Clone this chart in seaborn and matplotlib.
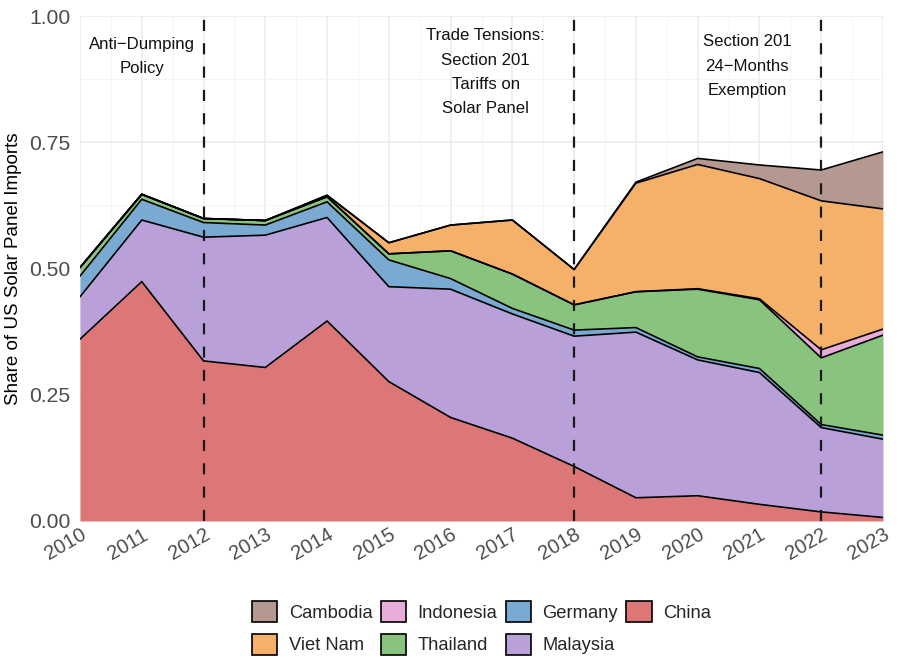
import numpy as np
import pandas as pd
import matplotlib
matplotlib.use("Agg")
import matplotlib.pyplot as plt
from matplotlib.patches import Patch
from matplotlib.ticker import MultipleLocator
import seaborn as sns

years = list(range(2010, 2024))
china     = [0.360, 0.474, 0.317, 0.304, 0.396, 0.276, 0.205, 0.164, 0.108, 0.046, 0.050, 0.033, 0.018, 0.007]
malaysia  = [0.084, 0.122, 0.245, 0.262, 0.205, 0.188, 0.254, 0.246, 0.258, 0.328, 0.269, 0.261, 0.167, 0.155]
germany   = [0.041, 0.041, 0.029, 0.020, 0.031, 0.053, 0.021, 0.011, 0.012, 0.009, 0.006, 0.008, 0.006, 0.008]
thailand  = [0.017, 0.010, 0.008, 0.009, 0.010, 0.012, 0.055, 0.068, 0.050, 0.071, 0.134, 0.136, 0.132, 0.198]
indonesia = [0.0, 0.0, 0.0, 0.0, 0.0, 0.0, 0.0, 0.0, 0.0, 0.0, 0.001, 0.002, 0.016, 0.012]
vietnam   = [0.0, 0.0, 0.0, 0.0, 0.003, 0.022, 0.051, 0.107, 0.070, 0.215, 0.246, 0.238, 0.295, 0.238]
cambodia  = [0.0, 0.0, 0.0, 0.0, 0.0, 0.0, 0.0, 0.0, 0.0, 0.002, 0.012, 0.027, 0.061, 0.113]

countries = ["China", "Malaysia", "Germany", "Thailand", "Indonesia", "Viet Nam", "Cambodia"]
colors = {
    "China": "#dd7777",
    "Malaysia": "#b9a0d8",
    "Germany": "#7aaad2",
    "Thailand": "#88c47d",
    "Indonesia": "#e8acd9",
    "Viet Nam": "#f5b06a",
    "Cambodia": "#b5988f",
}
legend_order = ["Cambodia", "Viet Nam", "Indonesia", "Thailand", "Germany", "Malaysia", "China"]

events = [2012, 2018, 2022]
event_labels = ["Anti\u2212Dumping\nPolicy",
                "Trade Tensions:\nSection 201\nTariffs on\nSolar Panel",
                "Section 201\n24\u2212Months\nExemption"]
event_label_x = [2011.0, 2016.57, 2020.8]
event_label_y = [0.887, 0.807, 0.8436]
y_ticks = [0.0, 0.25, 0.5, 0.75, 1.0]
y_tick_labels = ["0.00", "0.25", "0.50", "0.75", "1.00"]

df = pd.DataFrame({"Year": years, "China": china, "Malaysia": malaysia, "Germany": germany,
                   "Thailand": thailand, "Indonesia": indonesia, "Viet Nam": vietnam,
                   "Cambodia": cambodia})

sns.set_theme(style="whitegrid")
plt.rcParams["font.family"] = ["Liberation Sans", "DejaVu Sans"]

fig = plt.figure(figsize=(9.03, 6.66), dpi=100)
ax = fig.add_axes([80/903, 1-521/666, (883-80)/903, (521-16)/666])

cum = np.zeros(len(years))
long_rows = []
for c in countries:
    lower = cum.copy()
    cum = cum + df[c].values
    ax.fill_between(df["Year"], lower, cum, color=colors[c], linewidth=0, zorder=2)
    for y, v in zip(years, cum):
        long_rows.append({"Year": y, "Country": c, "Top": v})
long_df = pd.DataFrame(long_rows)
sns.lineplot(data=long_df, x="Year", y="Top", units="Country", estimator=None,
             color="black", linewidth=1.2, ax=ax, zorder=3, legend=False)

for x in events:
    ax.axvline(x, color="#1a1a1a", linestyle=(0, (5, 5.5)), linewidth=1.6, zorder=4)

for x, y, t in zip(event_label_x, event_label_y, event_labels):
    ax.text(x, y, t, ha="center", va="baseline", fontsize=12.1, linespacing=1.78,
            color="#111111", zorder=5)

ax.set_xlim(2010, 2023)
ax.set_ylim(0, 1)
ax.set_xticks(years)
ax.set_xticklabels([str(y) for y in years], rotation=30, ha="right", rotation_mode="anchor")
ax.xaxis.set_minor_locator(MultipleLocator(0.5))
ax.set_yticks(y_ticks)
ax.set_yticklabels(y_tick_labels)
ax.yaxis.set_minor_locator(MultipleLocator(0.125))
ax.grid(which="major", color="#ebebeb", linewidth=1.1)
ax.grid(which="minor", color="#f3f3f3", linewidth=0.6)
ax.set_axisbelow(True)
ax.set_facecolor("white")
for s in ax.spines.values():
    s.set_visible(False)
ax.tick_params(axis="x", which="both", labelsize=14.5, colors="#4d4d4d", length=0, pad=3)
ax.tick_params(axis="y", which="both", labelsize=15.2, colors="#4d4d4d", length=0, pad=7)
ax.set_xlabel("")
ax.set_ylabel("Share of US Solar Panel Imports", fontsize=13.5, color="black", labelpad=5)

handles = [Patch(facecolor=colors[c], edgecolor="black", linewidth=1.2, label=c) for c in legend_order]
fig.legend(handles=handles, loc="center", bbox_to_anchor=(481.5/903, 1-628/666), ncol=4, frameon=False,
           fontsize=13.2, handlelength=1.4, handleheight=1.4, handletextpad=0.62,
           columnspacing=0.45, labelspacing=0.62)

fig.savefig("out.png", dpi=100, facecolor="white")
